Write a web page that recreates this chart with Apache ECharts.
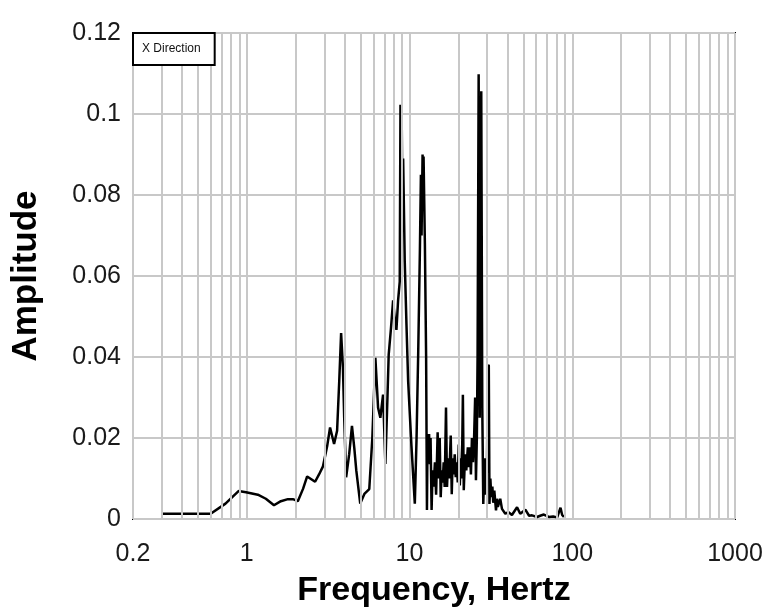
<!DOCTYPE html>
<html>
<head>
<meta charset="utf-8">
<title>X Direction spectrum</title>
<script src="https://cdn.jsdelivr.net/npm/echarts@6/dist/echarts.min.js"></script>
<style>
  html, body { margin: 0; padding: 0; background: #fff; }
  #chart { width: 768px; height: 613px; }
</style>
</head>
<body>
<div id="chart"></div>
<script>
// Spectrum samples: frequency (Hz) and amplitude
const freqHz = [
  0.3, 0.6, 0.74, 0.89, 0.99, 1.17, 1.31, 1.47, 1.62, 1.79, 1.92, 2.06,
  2.22, 2.35, 2.63, 2.78, 2.94, 3.12, 3.25, 3.44, 3.59, 3.70, 3.80, 3.90,
  3.97, 4.08, 4.26, 4.43, 4.58, 4.71, 4.98, 5.28, 5.66, 5.91, 6.17, 6.41,
  6.62, 6.88, 7.11, 7.32, 7.45, 7.69, 7.93, 8.13, 8.31, 8.51, 8.71, 8.80,
  8.88, 8.95, 9.05, 9.14, 9.35, 9.58, 9.81, 10.28, 10.78, 11.05, 11.31, 11.58,
  11.75, 11.86, 12.03, 12.15, 12.20, 12.43, 12.65, 12.80, 12.91, 13.04, 13.19, 13.34,
  13.47, 13.67, 13.86, 14.06, 14.33, 14.57, 14.89, 15.11, 15.33, 15.55, 15.77, 15.99,
  16.22, 16.45, 16.76, 17.0, 17.29, 17.53, 17.92, 18.18, 18.42, 18.69, 18.96, 19.23,
  19.51, 19.79, 20.08, 20.37, 20.66, 20.96, 21.28, 21.55, 21.95, 22.33, 22.83, 23.17,
  23.50, 23.84, 24.19, 24.54, 24.90, 25.31, 25.6, 25.93, 26.2, 26.6, 27.0, 27.3,
  27.6, 28.0, 28.4, 28.9, 29.3, 29.9, 30.3, 30.7, 31.0, 31.4, 31.8, 32.3,
  32.7, 33.2, 34.0, 34.5, 34.9, 36.1, 37.0, 38.8, 40.6, 42.6, 45.8, 47.9,
  51.5, 54.3, 56.6, 60.8, 63.5, 66.9, 71.8, 76.3, 80.8, 84.7, 86.7, 88.9
];
const amplitude = [
  0.0013, 0.0013, 0.0038, 0.0069, 0.0066, 0.0060, 0.0050, 0.0034, 0.0044, 0.0049, 0.0049, 0.0044,
  0.0075, 0.0105, 0.0092, 0.0110, 0.0130, 0.0180, 0.0226, 0.0185, 0.0218, 0.0340, 0.0459, 0.0373,
  0.0250, 0.0103, 0.0160, 0.0230, 0.0175, 0.0120, 0.0038, 0.0062, 0.0074, 0.0200, 0.0398, 0.0275,
  0.0250, 0.0307, 0.0136, 0.0300, 0.0406, 0.0470, 0.0540, 0.0490, 0.0467, 0.0540, 0.0586, 0.1023,
  0.0700, 0.1000, 0.0750, 0.0890, 0.0635, 0.0480, 0.0340, 0.0180, 0.0038, 0.0200, 0.0410, 0.0660,
  0.0850, 0.0700, 0.0900, 0.0800, 0.0895, 0.0680, 0.0400, 0.0022, 0.0210, 0.0144, 0.0210, 0.0135,
  0.0200, 0.0022, 0.0120, 0.0080, 0.0140, 0.0060, 0.0214, 0.0100, 0.0200, 0.0054, 0.0120, 0.0090,
  0.0140, 0.0079, 0.0275, 0.0079, 0.0150, 0.0100, 0.0206, 0.0061, 0.0150, 0.0110, 0.0160, 0.0103,
  0.0140, 0.0090, 0.0184, 0.0083, 0.0150, 0.0100, 0.0307, 0.0071, 0.0160, 0.0120, 0.0177, 0.0128,
  0.0177, 0.0110, 0.0200, 0.0140, 0.0190, 0.0300, 0.0096, 0.0200, 0.0400, 0.1098, 0.0250, 0.0600,
  0.1056, 0.0275, 0.0037, 0.0150, 0.0060, 0.0120, 0.0373, 0.0381, 0.0037, 0.0100, 0.0054, 0.0080,
  0.0040, 0.0070, 0.0021, 0.0050, 0.0030, 0.0050, 0.0025, 0.0013, 0.0017, 0.0010, 0.0029, 0.0013,
  0.0023, 0.0008, 0.0009, 0.0005, 0.0008, 0.0011, 0.0005, 0.0006, 0.0004, 0.0028, 0.0010, 0.0005
];

// Minor log-decade grid lines (2..9 of each decade)
const minorGridHz = [
  0.3, 0.4, 0.5, 0.6, 0.7, 0.8, 0.9,
  2, 3, 4, 5, 6, 7, 8, 9,
  20, 30, 40, 50, 60, 70, 80, 90,
  200, 300, 400, 500, 600, 700, 800, 900
];

const seriesName = 'X Direction';
const points = freqHz.map((f, i) => [f, amplitude[i]]);

const gridColor = '#c8c8c8';
const fontFamily = '"Liberation Sans", Arial, sans-serif';

const chart = echarts.init(document.getElementById('chart'));
chart.setOption({
  animation: false,
  backgroundColor: '#fff',
  grid: {
    left: 133, right: 33, top: 33, bottom: 91,
    show: true, borderColor: '#000', borderWidth: 2, backgroundColor: 'transparent'
  },
  legend: {
    left: 133, top: 33,
    z: 20,
    orient: 'vertical',
    data: [{ name: seriesName, icon: 'rect', itemStyle: { opacity: 0 } }],
    itemWidth: 0, itemHeight: 12,
    padding: [10, 14, 10, 4],
    backgroundColor: '#fff',
    borderColor: '#000', borderWidth: 2, borderRadius: 0,
    textStyle: { fontFamily: fontFamily, fontSize: 12, color: '#111' },
    selectedMode: false
  },
  xAxis: {
    type: 'log', logBase: 10, min: 0.2, max: 1000,
    name: 'Frequency, Hertz',
    nameLocation: 'middle', nameGap: 55,
    nameTextStyle: { fontFamily: fontFamily, fontSize: 34, fontWeight: 'bold', color: '#000' },
    axisLine: { show: false },
    axisTick: { show: false },
    axisLabel: {
      margin: 23, fontFamily: fontFamily, fontSize: 25, color: '#1a1a1a',
      formatter: v => String(v)
    },
    splitLine: { show: true, lineStyle: { color: gridColor, width: 2 } }
  },
  yAxis: {
    type: 'value', min: 0, max: 0.12, interval: 0.02,
    name: 'Amplitude',
    nameLocation: 'middle', nameGap: 89,
    nameTextStyle: { fontFamily: fontFamily, fontSize: 35, fontWeight: 'bold', color: '#000' },
    axisLine: { show: false },
    axisTick: { show: false },
    axisLabel: { margin: 12, fontFamily: fontFamily, fontSize: 25, color: '#1a1a1a' },
    splitLine: { show: true, lineStyle: { color: gridColor, width: 2 } }
  },
  series: [
    {
      name: 'minor grid',
      type: 'line',
      data: [],
      z: 1,
      silent: true,
      markLine: {
        silent: true,
        symbol: 'none',
        label: { show: false },
        lineStyle: { color: gridColor, width: 2, type: 'solid' },
        emphasis: { disabled: true },
        data: minorGridHz.map(v => ({ xAxis: v }))
      }
    },
    {
      name: seriesName,
      type: 'line',
      data: points,
      z: 3,
      showSymbol: false,
      symbol: 'none',
      lineStyle: { color: '#000', width: 2.5 },
      itemStyle: { color: '#000' }
    }
  ]
});
</script>
</body>
</html>
